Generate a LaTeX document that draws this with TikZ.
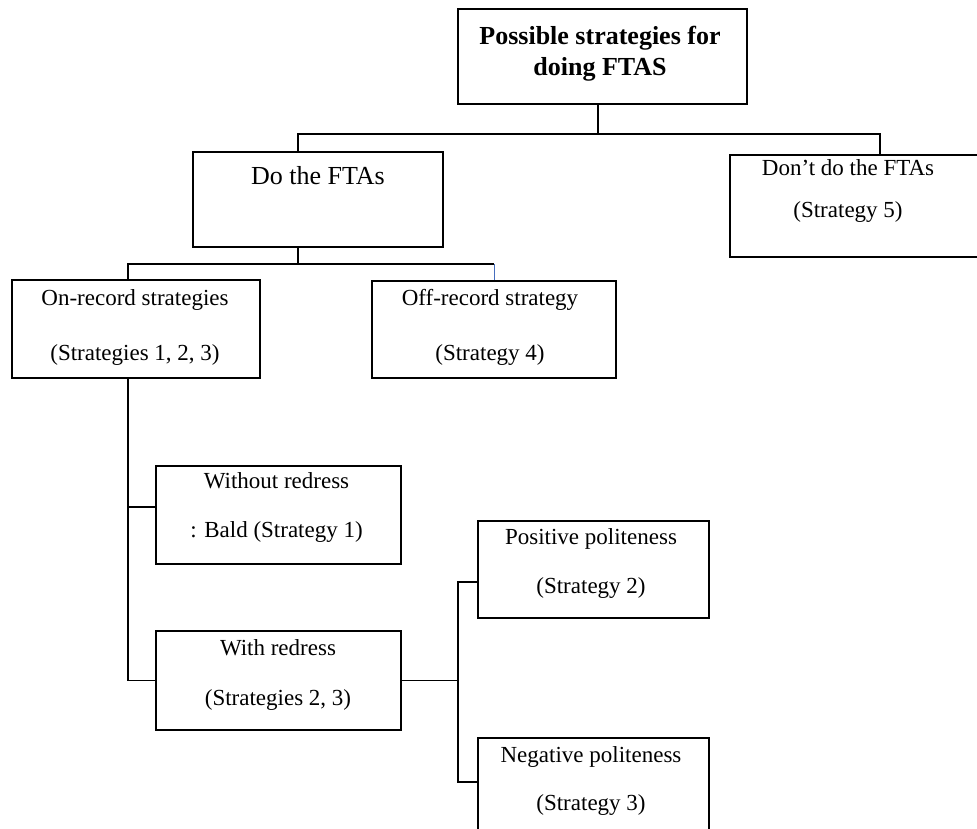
\documentclass[tikz,border=0pt]{standalone}
\usepackage{fontspec}
\setmainfont{Liberation Serif}
\usepackage{tikz}
\usepackage{color}
\definecolor{linkblue}{RGB}{70,110,190}

\begin{document}
\begin{tikzpicture}[%
      x=1pt, y=-1pt,
      box/.style={draw=black, line width=1.4pt, rectangle, inner sep=0pt},
      txt/.style={align=center, inner sep=0pt, font=\fontsize{23}{49}\selectfont},
      link/.style={color=black, line width=1.4pt},
      ]
      \useasboundingbox (0,0) rectangle (977,828);
      \clip (0,0) rectangle (977,828);

      % boxes
      \node [box, minimum width=289, minimum height=95] (root) at (602.5,56.5) {};
      \node [box, minimum width=250, minimum height=95] (do) at (318,199.5) {};
      \node [box, minimum width=260, minimum height=102] (dont) at (860,206) {};
      \node [box, minimum width=248, minimum height=98] (onrec) at (136,329) {};
      \node [box, minimum width=244, minimum height=97] (offrec) at (494,329.5) {};
      \node [box, minimum width=245, minimum height=98] (without) at (278.5,515) {};
      \node [box, minimum width=245, minimum height=99] (with) at (278.5,680.5) {};
      \node [box, minimum width=231, minimum height=97] (pos) at (593.5,569.5) {};
      \node [box, minimum width=231, minimum height=98] (neg) at (593.5,787) {};

      % texts
      \node [txt, font=\fontsize{26}{31}\selectfont\bfseries] (root-t) at (600,54)
            {Possible strategies for\\doing FTAS};
      \node [txt, font=\fontsize{26}{31}\selectfont] (do-t) at (318,176) {Do the FTAs};
      \node [txt, font=\fontsize{23}{42}\selectfont] (dont-t) at (848,191)
            {Don’t do the FTAs\\(Strategy 5)};
      \node [txt, font=\fontsize{23}{55}\selectfont] (onrec-t) at (135,327.5)
            {On-record strategies\\(Strategies 1, 2, 3)};
      \node [txt, font=\fontsize{23}{55}\selectfont] (offrec-t) at (490,327.5)
            {Off-record strategy\\(Strategy 4)};
      \node [txt] (without-t) at (276.5,507.5) {Without redress\\: Bald (Strategy 1)};
      \node [txt, font=\fontsize{23}{50}\selectfont] (with-t) at (278,675)
            {With redress\\(Strategies 2, 3)};
      \node [txt] (pos-t) at (591,563.5) {Positive politeness\\(Strategy 2)};
      \node [txt, font=\fontsize{23}{48}\selectfont] (neg-t) at (591,781)
            {Negative politeness\\(Strategy 3)};

      % first level
      \coordinate (j0) at (598,134);
      \coordinate (j1) at (298,134);
      \coordinate (j2) at (880,134);
      \draw [link] (root.south -| j0) -- (j0);
      \draw [link] (j1 |- do.north) -- (j1) -- (j2) -- (j2 |- dont.north);

      % second level
      \coordinate (k0) at (298,264);
      \coordinate (k1) at (128,264);
      \coordinate (k2) at (494,264);
      \draw [link] (do.south -| k0) -- (k0);
      \draw [link] (k1 |- onrec.north) -- (k1) -- (k2);
      \draw [color=linkblue, line width=1pt] (k2) -- (offrec.north);

      % on-record branches
      \coordinate (m0) at (128,681);
      \coordinate (m1) at (128,507);
      \draw [link] (onrec.south -| m0) |- (with.west);
      \draw [link] (m1) -- (m1 -| without.west);

      % with redress branches
      \coordinate (n0) at (458,681);
      \coordinate (n1) at (458,582);
      \coordinate (n2) at (458,782);
      \draw [link] (with.east) -- (with.east -| n0);
      \draw [link] (n1 -| pos.west) -- (n1) -- (n2) -- (n2 -| neg.west);
\end{tikzpicture}
\end{document}
